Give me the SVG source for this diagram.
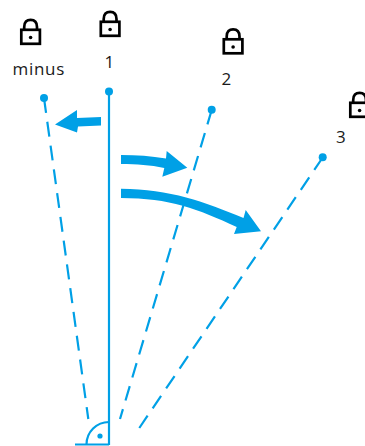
<svg xmlns="http://www.w3.org/2000/svg" width="365" height="446" viewBox="0 0 365 446">
<style>
.l{fill:none;stroke:#00a0e6;stroke-width:2.200}
.d{stroke-dasharray:15 9}
.p{fill:#00a0e6}
.t{font-family:"Open Sans","Liberation Sans",sans-serif;font-size:17px;fill:#1a1a1a}
.k{fill:none;stroke:#000;stroke-width:2.700}
</style>
<defs>
<g id="lock">
<rect class="k" x="1.300" y="11.300" width="18.600" height="14"/>
<path class="k" d="M4.200 11V8.500C4.200 3.500 6.800 1.300 10.600 1.300S17 3.500 17 8.500V11"/>
<circle cx="10.600" cy="19" r="1.800" fill="#000"/>
</g>
</defs>
<g id="connectors">
<path class="l" d="M109 92V445"/>
<path class="l d" d="M44 98L88.300 419"/>
<path class="l d" d="M211.700 110L120 419"/>
<path class="l d" d="M322.700 157.500L139.300 428"/>
<path class="l" d="M75 444.500H109"/>
<path class="l" d="M86.500 444.500A22.500 22.500 0 0 1 109 422"/>
<circle class="p" cx="100" cy="436" r="2.600"/>
<circle class="p" cx="44" cy="98" r="4"/>
<circle class="p" cx="109" cy="91.500" r="4"/>
<circle class="p" cx="211.700" cy="109.700" r="4"/>
<circle class="p" cx="322.700" cy="157.300" r="4"/>
<path class="p" d="M101 117L77 118L77 110L55 124.500L77 132.500L78 126.500L101 125.500Z"/>
<path class="p" d="M121 155C137 155 151 156 166 158.500L166.700 151L187.300 167.700L162.300 176.700L164.300 168C150 165 137 164 121 164Z"/>
<path class="p" d="M121 188.700C170 189 205 202 243.500 218L245.700 210L261 231.300L234 234L236.700 227C198 209 170 198 121 198Z"/>
</g>
<g id="node-minus"><use href="#lock" x="20" y="18.500"/><text class="t" x="12.500" y="75" letter-spacing="0.700">minus</text></g>
<g id="node-1"><use href="#lock" x="99.500" y="10.500"/><text class="t" x="104.500" y="68">1</text></g>
<g id="node-2"><use href="#lock" x="222.500" y="28"/><text class="t" x="221.500" y="85">2</text></g>
<g id="node-3"><use href="#lock" x="349" y="91.500"/><text class="t" x="336" y="142.500">3</text></g>
</svg>
